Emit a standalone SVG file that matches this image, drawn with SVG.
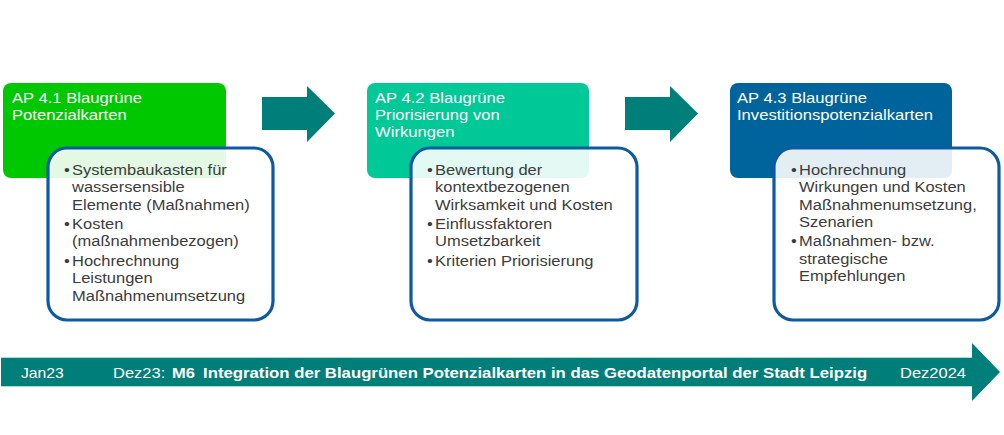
<svg xmlns="http://www.w3.org/2000/svg" width="1004" height="435" viewBox="0 0 1004 435">
<style>
text{font-family:"Liberation Sans",Arial,sans-serif;font-size:15px}
.t{fill:#ffffff}
.b{fill:#3c3c3c}
.inner{fill:#ffffff;fill-opacity:0.89;stroke:#0d5aa3;stroke-width:3.2}
.arr{fill:#007e7a}
.bold{font-weight:bold}
</style>
<rect width="1004" height="435" fill="#ffffff"/>

<g id="connectors">
  <polygon class="arr" points="262,97 307,97 307,86 335,113.5 307,142 307,130 262,130"/>
  <polygon class="arr" points="625,97 670,97 670,86 698,113.5 670,142 670,130 625,130"/>
</g>

<g id="ap41">
  <rect x="3" y="83" width="223" height="95" rx="8" fill="#00c800"/>
  <g transform="translate(12 0) scale(1.11 1)">
    <text class="t"><tspan x="0" y="103">AP 4.1 Blaugrüne</tspan><tspan x="0" y="120">Potenzialkarten</tspan></text>
  </g>
  <rect class="inner" x="48" y="148" width="225" height="172" rx="19"/>
  <g transform="translate(64 0) scale(1.1 1)">
    <text class="b"><tspan x="0" y="175">•</tspan><tspan x="0" y="229">•</tspan><tspan x="0" y="266">•</tspan></text>
    <text class="b"><tspan x="7.3" y="175">Systembaukasten für</tspan><tspan x="7.3" y="192.4">wassersensible</tspan><tspan x="7.3" y="209.8">Elemente (Maßnahmen)</tspan><tspan x="7.3" y="229">Kosten</tspan><tspan x="7.3" y="246.4">(maßnahmenbezogen)</tspan><tspan x="7.3" y="266">Hochrechnung</tspan><tspan x="7.3" y="283.4">Leistungen</tspan><tspan x="7.3" y="300.8">Maßnahmenumsetzung</tspan></text>
  </g>
</g>

<g id="ap42">
  <rect x="367" y="83" width="222" height="95" rx="8" fill="#00c896"/>
  <g transform="translate(375 0) scale(1.11 1)">
    <text class="t"><tspan x="0" y="103">AP 4.2 Blaugrüne</tspan><tspan x="0" y="120">Priorisierung von</tspan><tspan x="0" y="137">Wirkungen</tspan></text>
  </g>
  <rect class="inner" x="411" y="148" width="226" height="172" rx="19"/>
  <g transform="translate(427 0) scale(1.1 1)">
    <text class="b"><tspan x="0" y="175">•</tspan><tspan x="0" y="229">•</tspan><tspan x="0" y="266">•</tspan></text>
    <text class="b"><tspan x="7.3" y="175">Bewertung der</tspan><tspan x="7.3" y="192.4">kontextbezogenen</tspan><tspan x="7.3" y="209.8">Wirksamkeit und Kosten</tspan><tspan x="7.3" y="229">Einflussfaktoren</tspan><tspan x="7.3" y="246.4">Umsetzbarkeit</tspan><tspan x="7.3" y="266">Kriterien Priorisierung</tspan></text>
  </g>
</g>

<g id="ap43">
  <rect x="730" y="83" width="222" height="95" rx="8" fill="#00649c"/>
  <g transform="translate(737 0) scale(1.11 1)">
    <text class="t"><tspan x="0" y="103">AP 4.3 Blaugrüne</tspan><tspan x="0" y="120">Investitionspotenzialkarten</tspan></text>
  </g>
  <rect class="inner" x="774" y="148" width="225" height="172" rx="19"/>
  <g transform="translate(791 0) scale(1.1 1)">
    <text class="b"><tspan x="0" y="175">•</tspan><tspan x="0" y="246.5">•</tspan></text>
    <text class="b"><tspan x="7.3" y="175">Hochrechnung</tspan><tspan x="7.3" y="192.4">Wirkungen und Kosten</tspan><tspan x="7.3" y="209.8">Maßnahmenumsetzung,</tspan><tspan x="7.3" y="227.2">Szenarien</tspan><tspan x="7.3" y="246.5">Maßnahmen- bzw.</tspan><tspan x="7.3" y="263.9">strategische</tspan><tspan x="7.3" y="281.3">Empfehlungen</tspan></text>
  </g>
</g>

<g id="timeline">
  <polygon class="arr" points="1,357.5 972,357.5 972,343 1000,372 972,401 972,386.5 1,386.5"/>
  <line x1="1" y1="357.5" x2="972" y2="357.5" stroke="#a8dcda" stroke-width="1"/>
  <line x1="1" y1="386.5" x2="972" y2="386.5" stroke="#a8dcda" stroke-width="1"/>
  <g transform="translate(21 0) scale(1.05 1)"><text class="t" x="0" y="378">Jan23</text></g>
  <g transform="translate(113 0) scale(1.1 1)"><text class="t" x="0" y="378">Dez23:</text></g>
  <g transform="translate(172 0) scale(1.1 1)"><text class="t bold" x="0" y="378">M6</text></g>
  <g transform="translate(203 0) scale(1.117 1)"><text class="t bold" x="0" y="378">Integration der Blaugrünen Potenzialkarten in das Geodatenportal der Stadt Leipzig</text></g>
  <g transform="translate(900 0) scale(1.1 1)"><text class="t" x="0" y="378">Dez2024</text></g>
</g>
</svg>
